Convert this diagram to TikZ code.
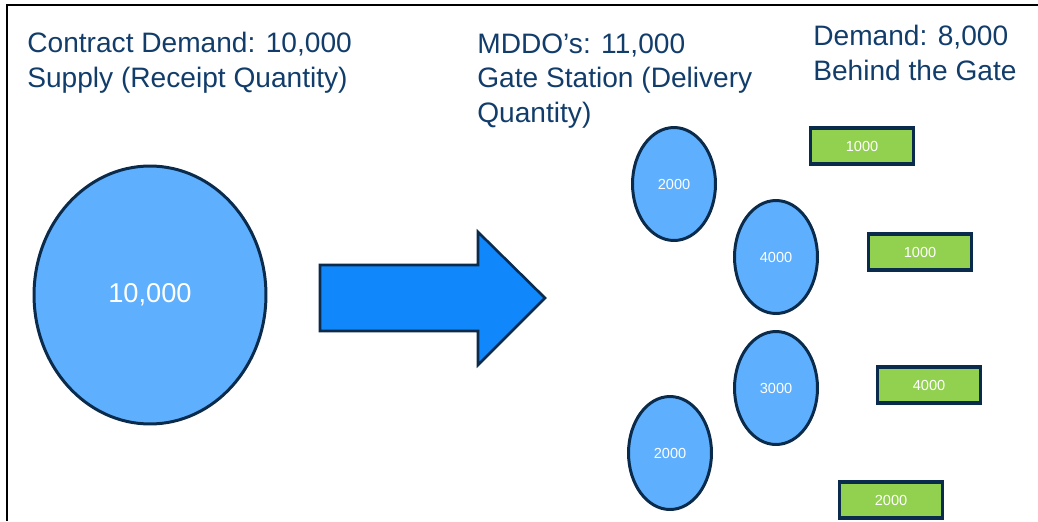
\documentclass[tikz,border=0pt]{standalone}
\usepackage{fontspec}
\setmainfont{Liberation Sans}
\usetikzlibrary{positioning,shapes.geometric}
\definecolor{navy}{HTML}{123D6B}
\definecolor{edge}{HTML}{0B2B4C}
\definecolor{sky}{HTML}{5EAFFD}
\definecolor{flowblue}{HTML}{1187FC}
\definecolor{leaf}{HTML}{92D050}

\begin{document}
\begin{tikzpicture}[x=0.02cm,y=-0.02cm,
          pool/.style={ellipse,draw=edge,fill=sky,line width=1.7pt,text=white,inner sep=0pt,
            minimum width=1.66cm,minimum height=2.26cm,font=\fontsize{8.3}{10}\selectfont},
          meter/.style={rectangle,draw=edge,fill=leaf,line width=2.2pt,text=white,inner sep=0pt,
            minimum width=2.06cm,minimum height=0.72cm,font=\fontsize{8.3}{10}\selectfont},
          head/.style={text=navy,align=left,anchor=base west,inner sep=0pt,
            font=\fontsize{16}{19.5}\selectfont}]
        \useasboundingbox (0,0) rectangle (1038,521);
        \draw[line width=1.2pt] (7,521) -- (7,5) -- (1038,5);
        % headings (placed at the baseline of their last line)
        \node[head] (supply)  at (27,87)  {Contract Demand:  10,000\\Supply (Receipt Quantity)};
        \node[head] (gate)    at (477,122) {MDDO’s: 11,000\\Gate Station (Delivery\\Quantity)};
        \node[head] (behind)  at (813,80) {Demand: 8,000\\Behind the Gate};
        % receipt pool and flow arrow
        \node[pool,minimum width=4.64cm,minimum height=5.16cm,font=\fontsize{15.5}{18}\selectfont]
          (receipt) at (150,295) {10,000};
        \draw[draw=edge,fill=flowblue,line width=1.5pt,line join=miter]
          (320,265) -- (478,265) -- (478,232) -- (545,298) -- (478,365) -- (478,331) -- (320,331) -- cycle;
        % gate stations
        \node[pool] (g1) at (674,184) {2000};
        \node[pool] (g2) at (776,257) {4000};
        \node[pool] (g3) at (776,388) {3000};
        \node[pool] (g4) at (670,453) {2000};
        % behind the gate
        \node[meter] (m1) at (862,146) {1000};
        \node[meter] (m2) at (920,252) {1000};
        \node[meter] (m3) at (929,385) {4000};
        \node[meter] (m4) at (891,500) {2000};
      \end{tikzpicture}
\end{document}
